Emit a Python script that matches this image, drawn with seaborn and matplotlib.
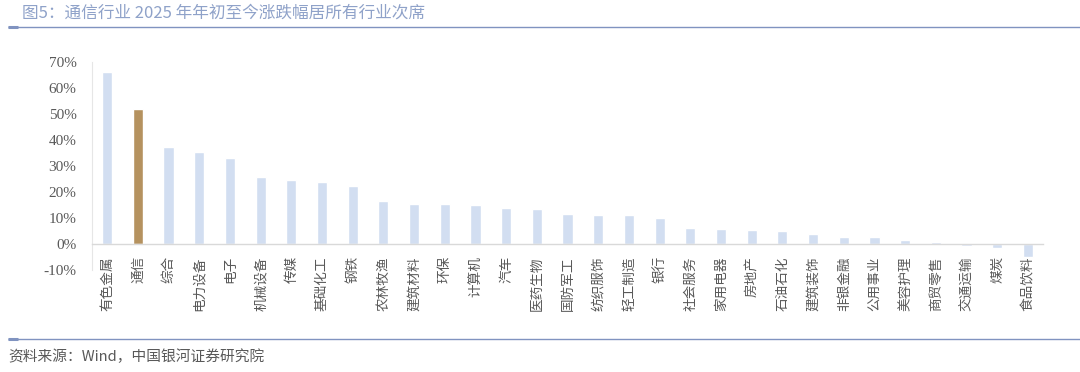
import matplotlib
matplotlib.use("Agg")
import matplotlib.pyplot as plt
import seaborn as sns
import pandas as pd
from matplotlib.lines import Line2D
from matplotlib.ticker import FuncFormatter, MultipleLocator

industries = ["有色金属", "通信", "综合", "电力设备", "电子", "机械设备", "传媒", "基础化工",
              "钢铁", "农林牧渔", "建筑材料", "环保", "计算机", "汽车", "医药生物", "国防军工",
              "纺织服饰", "轻工制造", "银行", "社会服务", "家用电器", "房地产", "石油石化",
              "建筑装饰", "非银金融", "公用事业", "美容护理", "商贸零售", "交通运输", "煤炭", "食品饮料"]
returns = [65.9, 52.0, 37.2, 35.4, 32.8, 25.6, 24.5, 23.9,
           22.3, 16.3, 15.4, 15.1, 14.8, 13.9, 13.5, 11.3,
           11.2, 10.9, 9.8, 6.0, 5.8, 5.4, 5.0,
           3.6, 2.7, 2.6, 1.5, 0.5, -1.0, -1.5, -5.1]
highlight = "通信"

title = "图5：通信行业 2025 年年初至今涨跌幅居所有行业次席"
source = "资料来源：Wind，中国银河证券研究院"

sns.set_theme(style="white")
plt.rcParams["font.family"] = ["Noto Sans CJK SC", "DejaVu Sans"]

df = pd.DataFrame({"industry": industries, "ret": returns})
palette = {k: ("#b5925f" if k == highlight else "#d2def1") for k in industries}

fig = plt.figure(figsize=(10.8, 3.72), dpi=100)
ax = fig.add_axes([0.085, 0.275, 0.881, 0.559])

sns.barplot(data=df, x="industry", y="ret", hue="industry", palette=palette,
            legend=False, width=0.33, saturation=1, ax=ax)

ax.set_xlim(-0.5, len(industries) - 0.5)
ax.set_ylim(-10, 70)
ax.yaxis.set_major_locator(MultipleLocator(10))
ax.yaxis.set_major_formatter(FuncFormatter(lambda v, p: f"{v:.0f}%"))
ax.set_xlabel("")
ax.set_ylabel("")

for s in ["top", "right"]:
    ax.spines[s].set_visible(False)
ax.spines["bottom"].set_position(("data", 0))
ax.spines["bottom"].set_color("#d9d9d9")
ax.spines["left"].set_color("#e6e6e6")
ax.spines["bottom"].set_linewidth(1.0)
ax.spines["left"].set_linewidth(0.8)

ax.tick_params(axis="x", length=0, pad=9, labelsize=9.8, labelcolor="#595959", rotation=90)
ax.tick_params(axis="y", length=0, pad=11, labelsize=11, labelcolor="#595959")
for lab in ax.get_yticklabels():
    lab.set_fontfamily(["Liberation Serif", "DejaVu Serif"])
for lab in ax.get_xticklabels():
    lab.set_verticalalignment("top")

# title and rules
fig.text(0.020, 0.964, title, fontsize=12, color="#8fa2c9", ha="left", va="center")
for yy in (0.928, 0.089):
    fig.add_artist(Line2D([0.007, 1.0], [yy, yy], transform=fig.transFigure,
                          color="#8093c0", lw=1.0, solid_capstyle="butt"))
    fig.add_artist(Line2D([0.007, 0.017], [yy, yy], transform=fig.transFigure,
                          color="#8093c0", lw=2.2, solid_capstyle="butt"))
fig.text(0.008, 0.041, source, fontsize=10.6, color="#595959", ha="left", va="center")

fig.savefig("out.png", dpi=100)
